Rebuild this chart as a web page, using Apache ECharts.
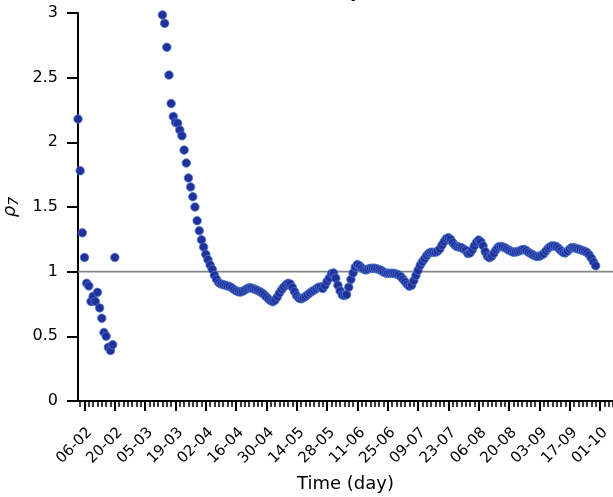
<!DOCTYPE html>
<html>
<head>
<meta charset="utf-8">
<script src="https://cdn.jsdelivr.net/npm/echarts@6/dist/echarts.min.js"></script>
<style>
html,body{margin:0;padding:0;background:#fff;}
#chart{width:613px;height:497px;}
</style>
</head>
<body>
<div id="chart"></div>
<script>
// Day 0 = 06-02 (6 February 2020)
const tickLabels = ['06-02','20-02','05-03','19-03','02-04','16-04','30-04','14-05','28-05','11-06','25-06','09-07','23-07','06-08','20-08','03-09','17-09','01-10'];
const tickStepDays = 14;

const earlyStartDay = -3;
const earlyValues = [2.18,1.78,1.30,1.11,0.91,0.89,0.77,0.81,0.77,0.84,0.72,0.64,0.53,0.50,0.415,0.39,0.435,1.11];

const lateStartDay = 36;
const lateValues = [
  2.985,2.92,2.735,2.52,2.30,2.20,2.155,2.147,2.096,2.05,
  1.94,1.84,1.725,1.655,1.58,1.50,1.394,1.317,1.247,1.19,
  1.134,1.093,1.052,1.018,0.972,0.94,0.915,
  0.905,0.90,0.895,0.89,0.885,0.875,0.862,0.852,0.845,0.842,
  0.848,0.858,0.868,0.875,0.874,0.868,0.862,0.855,0.845,0.835,
  0.822,0.805,0.788,0.775,0.768,0.78,0.805,0.835,0.86,0.882,
  0.898,0.91,0.905,0.878,0.845,0.812,0.795,0.79,0.797,0.808,
  0.822,0.835,0.847,0.857,0.867,0.88,0.882,0.87,0.893,0.925,
  0.95,0.985,0.99,0.95,0.895,0.852,0.82,0.815,0.822,0.88,
  0.94,0.99,1.035,1.055,1.045,1.028,1.018,1.013,1.02,1.026,
  1.027,1.026,1.022,1.016,1.01,0.998,0.99,0.988,0.987,0.988,
  0.986,0.982,0.975,0.962,0.942,0.922,0.902,0.888,0.895,0.93,
  0.97,1.01,1.05,1.077,1.1,1.125,1.143,1.15,1.15,1.15,
  1.158,1.175,1.205,1.232,1.255,1.263,1.25,1.225,1.205,1.193,
  1.19,1.186,1.175,1.165,1.14,1.145,1.168,1.2,1.228,1.245,
  1.23,1.2,1.155,1.12,1.108,1.12,1.142,1.17,1.19,1.195,
  1.193,1.185,1.175,1.165,1.157,1.15,1.152,1.155,1.162,1.17,
  1.172,1.163,1.15,1.14,1.13,1.122,1.117,1.12,1.128,1.138,
  1.16,1.18,1.193,1.2,1.198,1.193,1.178,1.162,1.148,1.145,
  1.158,1.175,1.186,1.185,1.18,1.175,1.17,1.163,1.157,1.148,
  1.13,1.105,1.075,1.046
];

const xMin = -3, xMax = 244;
const majorTicks = tickLabels.map((_, i) => i * tickStepDays);
const minorTicks = [];
for (let d = -2; d <= xMax; d += 2) if (d % tickStepDays !== 0) minorTicks.push(d);

const toPoints = (start, vals) => vals.map((v, i) => [start + i, v]);
const font = 'DejaVu Sans';

const chart = echarts.init(document.getElementById('chart'), null, {renderer: 'canvas'});
chart.setOption({
  animation: false,
  backgroundColor: '#ffffff',
  grid: {left: 78, right: 0, top: 13, bottom: 96, containLabel: false, outerBoundsMode: 'none'},
  graphic: [{
    type: 'text', left: 350, top: -18,
    style: {text: 'y', font: '20px "DejaVu Sans"', fill: '#000'}
  }],
  xAxis: [{
    type: 'value', min: xMin, max: xMax,
    name: 'Time (day)', nameLocation: 'middle', nameGap: 74,
    nameTextStyle: {fontFamily: font, fontSize: 18, color: '#000'},
    axisLine: {show: true, onZero: false, lineStyle: {color: '#000', width: 2}},
    axisTick: {show: true, customValues: majorTicks, length: 10, lineStyle: {color: '#000', width: 2}},
    axisLabel: {
      customValues: majorTicks, rotate: 45, margin: 24, verticalAlign: 'top', align: 'right',
      fontFamily: font, fontSize: 15, color: '#000',
      formatter: v => tickLabels[Math.round(v / tickStepDays)]
    },
    splitLine: {show: false}
  }, {
    type: 'value', min: xMin, max: xMax, position: 'bottom',
    axisLine: {show: false, onZero: false},
    axisTick: {show: true, customValues: minorTicks, length: 6, lineStyle: {color: '#000', width: 1.5}},
    axisLabel: {show: false},
    splitLine: {show: false}
  }],
  yAxis: {
    type: 'value', min: 0, max: 3, interval: 0.5,
    name: '{rho|ρ}{sub|7}', nameLocation: 'middle', nameGap: 56, nameRotate: 90,
    nameTextStyle: {
      fontFamily: font, color: '#000',
      rich: {
        rho: {fontFamily: font, fontStyle: 'italic', fontSize: 18, color: '#000'},
        sub: {fontFamily: font, fontStyle: 'italic', fontSize: 14, color: '#000', padding: [9, 0, 0, 0]}
      }
    },
    axisLine: {show: true, onZero: false, lineStyle: {color: '#000', width: 2}},
    axisTick: {show: true, length: 11, lineStyle: {color: '#000', width: 2}},
    axisLabel: {fontFamily: font, fontSize: 16, color: '#000', margin: 20},
    splitLine: {show: false}
  },
  series: [{
    type: 'line', silent: true, showSymbol: false, z: 1,
    data: [[xMin, 1], [xMax, 1]],
    lineStyle: {color: '#858585', width: 1.8}
  }, {
    type: 'scatter', z: 3, symbolSize: 8.5,
    data: toPoints(earlyStartDay, earlyValues),
    itemStyle: {color: '#22309a', borderColor: '#4a7ad4', borderWidth: 0.8, opacity: 1}
  }, {
    type: 'scatter', z: 3, symbolSize: 8.5,
    data: toPoints(lateStartDay, lateValues),
    itemStyle: {color: '#22309a', borderColor: '#4a7ad4', borderWidth: 0.8, opacity: 1}
  }]
});
</script>
</body>
</html>
